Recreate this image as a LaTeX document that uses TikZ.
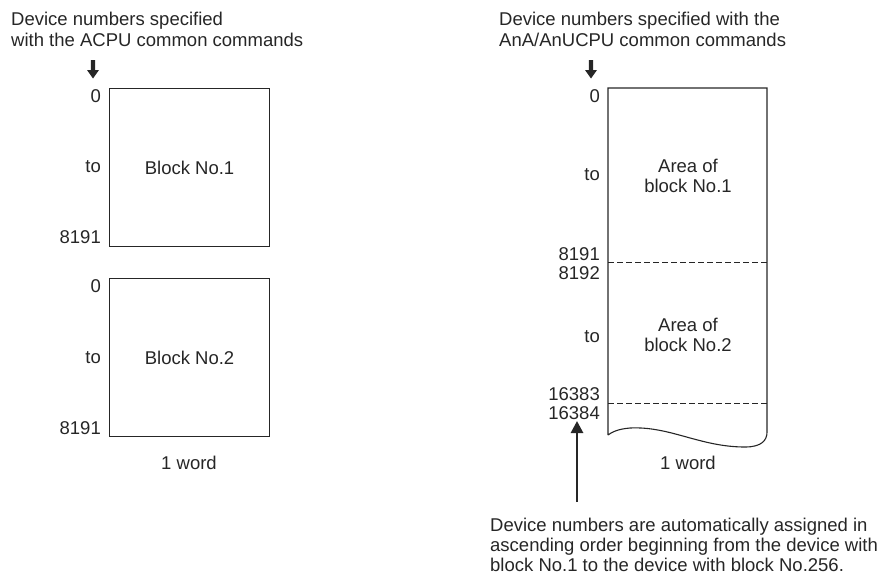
\documentclass[tikz,border=0pt]{standalone}
\usepackage{fontspec}
\setmainfont{Liberation Sans}
\usetikzlibrary{arrows.meta}
\begin{document}
\begin{tikzpicture}[x=1pt,y=-1pt,
  txt/.style={inner sep=0pt, font=\fontsize{18.5}{20.5}\selectfont, text=black!85},
  lbl/.style={txt, anchor=east},
  box/.style={draw=black!85, line width=1.1pt},
  dashline/.style={draw=black!85, line width=0.9pt, dash pattern=on 5.5pt off 3.5pt},
  bigarrow/.style={fill=black!85, draw=none}]
\useasboundingbox (0,0) rectangle (882,578);

% ---------- Left ----------
\node[txt, anchor=north west, align=left] (ltitle) at (11,12) {Device numbers specified\\with the ACPU common commands};
\fill[bigarrow] (90.8,60) -- (95.2,60) -- (95.2,70) -- (99,70) -- (93,78.5) -- (87,70) -- (90.8,70) -- cycle;

\node[box, minimum width=160pt, minimum height=158pt, inner sep=0pt, anchor=north west] (b1) at (109,88) {};
\node[txt] (b1t) at (b1.center) {Block No.1};
\node[lbl] (l10) at (101,96) {0};
\node[lbl] (l1to) at (101,167) {to};
\node[lbl] (l1e) at (101,237) {8191};

\node[box, minimum width=160pt, minimum height=158pt, inner sep=0pt, anchor=north west] (b2) at (109,278) {};
\node[txt] (b2t) at (b2.center) {Block No.2};
\node[lbl] (l20) at (101,286) {0};
\node[lbl] (l2to) at (101,358) {to};
\node[lbl] (l2e) at (101,428) {8191};

\node[txt] (lword) at (189,463) {1 word};

% ---------- Right ----------
\node[txt, anchor=north west, align=left] (rtitle) at (499,12) {Device numbers specified with the\\AnA/AnUCPU common commands};
\fill[bigarrow] (588.8,60) -- (593.2,60) -- (593.2,70) -- (597,70) -- (591,78.5) -- (585,70) -- (588.8,70) -- cycle;

\coordinate (tl) at (608,88);
\coordinate (tr) at (767,88);
\coordinate (bl) at (608,435);
\coordinate (br) at (767,432);
\draw[box] (bl) -- (tl) -- (tr) -- (br)
  .. controls (767,440) and (762,447) .. (745,447)
  .. controls (700,447) and (670,426) .. (630,428)
  .. controls (618,429) and (612,432) .. (bl);

\draw[dashline] (608,262) -- (767,262);
\draw[dashline] (608,403) -- (767,403);

\node[txt, align=center] (a1) at (688,176) {Area of\\block No.1};
\node[txt, align=center] (a2) at (688,335) {Area of\\block No.2};

\node[lbl] (r0) at (600,96) {0};
\node[lbl] (r1to) at (600,175) {to};
\node[lbl] (r8191) at (600,254) {8191};
\node[lbl] (r8192) at (600,273) {8192};
\node[lbl] (r2to) at (600,337) {to};
\node[lbl] (r16383) at (600,394) {16383};
\node[lbl] (r16384) at (600,413) {16384};

\node[txt] (rword) at (688,463) {1 word};

\coordinate (atail) at (577,502);
\coordinate (ahead) at (577,421);
\draw[line width=2.7pt, draw=black!85, -{Triangle[length=12pt,width=12pt]}] (atail) -- (ahead);

\node[txt, anchor=north west, align=left, font=\fontsize{18.5}{20}\selectfont] (note) at (490,518) {Device numbers are automatically assigned in\\ascending order beginning from the device with\\block No.1 to the device with block No.256.};
\end{tikzpicture}
\end{document}
